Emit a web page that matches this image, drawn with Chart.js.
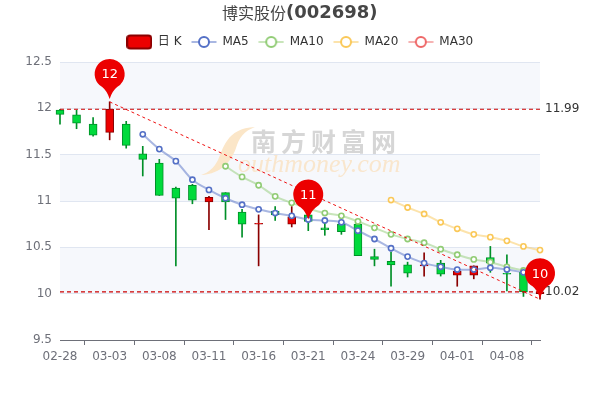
<!DOCTYPE html>
<html><head><meta charset="utf-8">
<style>html,body{margin:0;padding:0;background:#fff}canvas{display:block}</style>
<script src="https://cdn.jsdelivr.net/npm/chart.js@4"></script></head>
<body><div style="width:600px;height:400px"><canvas id="c" width="600" height="400"></canvas></div>
<script>
const dates=['02-28','03-01','03-02','03-03','03-04','03-07','03-08','03-09','03-10','03-11','03-14','03-15','03-16','03-17','03-18','03-21','03-22','03-23','03-24','03-25','03-28','03-29','03-30','03-31','04-01','04-06','04-07','04-08','04-11','04-12'];
const opens =[11.98,11.93,11.83,11.74,11.83,11.51,11.41,11.14,11.17,10.99,11.09,10.88,10.75,10.89,10.75,10.85,10.71,10.75,10.75,10.40,10.35,10.31,10.30,10.33,10.20,10.20,10.39,10.22,10.23,10.00];
const closes=[11.935,11.84,11.71,11.99,11.60,11.45,11.06,11.03,11.01,11.04,10.99,10.75,10.76,10.85,10.83,10.78,10.69,10.67,10.41,10.37,10.31,10.22,10.31,10.21,10.24,10.30,10.33,10.21,10.02,10.02];
const lows  =[11.83,11.78,11.70,11.66,11.57,11.27,11.06,10.30,10.97,10.69,10.80,10.61,10.30,10.79,10.72,10.68,10.63,10.64,10.41,10.30,10.08,10.18,10.19,10.19,10.08,10.16,10.23,10.03,9.97,9.94];
const highs =[11.99,11.98,11.90,12.07,11.86,11.59,11.45,11.15,11.18,11.05,11.09,10.91,10.85,10.94,10.94,10.87,10.76,10.77,10.77,10.48,10.45,10.34,10.44,10.36,10.25,10.30,10.51,10.42,10.24,10.20];
const ma5 =[null,null,null,null,null,11.72,11.56,11.43,11.23,11.12,11.03,10.96,10.91,10.87,10.84,10.80,10.79,10.77,10.68,10.59,10.49,10.40,10.33,10.29,10.26,10.26,10.28,10.26,10.23,10.20];
const ma10=[null,null,null,null,null,null,null,null,null,null,11.375,11.26,11.17,11.05,10.98,10.92,10.87,10.84,10.78,10.71,10.64,10.59,10.55,10.48,10.42,10.37,10.34,10.29,10.25,10.22];
const ma20=[null,null,null,null,null,null,null,null,null,null,null,null,null,null,null,null,null,null,null,null,11.01,10.93,10.86,10.77,10.70,10.64,10.61,10.57,10.51,10.47];
const ma30=[];
const yTicks=[9.5,10,10.5,11,11.5,12,12.5];
const xTickEvery=3;
const markHigh=11.99, markLow=10.02;
const trendFromIdx=3, trendFromVal=12.07, trendToIdx=29, trendToVal=9.94;
const pinIdx=[3,15,29], pinVal=[12.10,10.80,9.95], pinText=['12','11','10'];
const seriesNames=['日 K','MA5','MA10','MA20','MA30'];
const seriesColors=['#ec0000','#5470c6','#91cc75','#fac858','#ee6666'];
const lineColors=['','rgba(84,112,198,.5)','rgba(145,204,117,.5)','rgba(250,200,88,.5)','rgba(238,102,102,.5)'];

const UP='#ec0000',UPB='#8a0000',DN='#00da3c',DNB='#008f28';
const FONT='"DejaVu Sans","Noto Sans CJK SC",sans-serif';
const isUp=i=>closes[i]>opens[i];

function icon(k){
  const c=document.createElement('canvas');c.width=26;c.height=16;const x=c.getContext('2d');
  if(k===0){x.fillStyle=UP;x.strokeStyle=UPB;x.lineWidth=2;x.beginPath();x.roundRect(1,1.5,24,13,3);x.fill();x.stroke();}
  else{x.strokeStyle=lineColors[k];x.lineWidth=2;x.beginPath();x.moveTo(.5,8);x.lineTo(25.5,8);x.stroke();
    x.fillStyle='#fff';x.strokeStyle=seriesColors[k];x.beginPath();x.arc(13,8,5,0,Math.PI*2);x.fill();x.stroke();}
  return c;
}
const lineDs=(k,d)=>({type:'line',label:seriesNames[k],data:d,borderColor:lineColors[k],borderWidth:2,tension:.35,
  pointRadius:2.6,pointBorderWidth:1.6,pointBorderColor:seriesColors[k],pointBackgroundColor:'#fff',spanGaps:false,clip:false,order:2});
const constLine=v=>dates.map(()=>v);
const trend=dates.map((_,i)=>i===trendFromIdx?trendFromVal:i===trendToIdx?trendToVal:null);

const chrome={id:'chrome',
  afterLayout(ch){ch.legend.top-=4;},
  beforeDraw(ch){
    const {ctx}=ch,y=ch.scales.y,a=ch.chartArea;
    ctx.save();ctx.fillStyle='rgba(210,219,238,.2)';
    for(let i=yTicks.length-1;i>0;i-=2){const t=y.getPixelForValue(yTicks[i]),b=y.getPixelForValue(yTicks[i-1]);ctx.fillRect(a.left,t,a.right-a.left,b-t);}
    ctx.restore();
  },
  beforeDatasetsDraw(ch){
    const {ctx}=ch;ctx.save();
    // watermark
    ctx.fillStyle='#fbe6c8';ctx.beginPath();ctx.moveTo(255,127);
    ctx.bezierCurveTo(226,128,223,150,218,160);ctx.bezierCurveTo(214,168,208,173,201,175);
    ctx.bezierCurveTo(222,174,232,160,236,148);ctx.bezierCurveTo(239,138,244,131,255,127);ctx.fill();
    ctx.textBaseline='middle';ctx.textAlign='left';
    ctx.fillStyle='#d6d6d6';ctx.font='bold 25px "Noto Sans CJK SC"';ctx.letterSpacing='5px';ctx.fillText('南方财富网',251,141);
    ctx.letterSpacing='0px';ctx.fillStyle='#f9e6cd';ctx.font='italic 26px "Liberation Serif"';ctx.fillText('outhmoney.com',238,165);
    ctx.restore();
  },
  afterDraw(ch){
    const {ctx}=ch,x=ch.scales.x,y=ch.scales.y;ctx.save();
    // title
    ctx.textBaseline='middle';ctx.textAlign='left';ctx.fillStyle='#464646';
    ctx.font='16px "Noto Sans CJK SC"';ctx.fillText('博实股份',222,13);
    ctx.font='bold 18px "DejaVu Sans"';ctx.fillText('(002698)',286,13);
    // mark labels
    ctx.fillStyle='#333';ctx.font='12px "DejaVu Sans"';
    ctx.fillText(markHigh.toFixed(2),545,y.getPixelForValue(markHigh));
    ctx.fillText(markLow.toFixed(2),545,y.getPixelForValue(markLow));
    // pins
    pinIdx.forEach((ix,n)=>{
      const px=x.getPixelForValue(ix),tip=y.getPixelForValue(pinVal[n]),r=15,cy=tip-25;
      ctx.fillStyle='#ec0000';ctx.beginPath();
      const ang=.52;
      ctx.arc(px,cy,r,Math.PI/2+ang,Math.PI/2-ang,false);
      ctx.quadraticCurveTo(px+2.5,cy+r+2,px,tip);
      ctx.quadraticCurveTo(px-2.5,cy+r+2,px-r*Math.sin(ang),cy+r*Math.cos(ang));
      ctx.closePath();ctx.fill();
      ctx.fillStyle='#fff';ctx.textAlign='center';ctx.font='13px "DejaVu Sans"';ctx.fillText(pinText[n],px,cy+1);
    });
    ctx.restore();
  }};

new Chart(document.getElementById('c'),{
  type:'bar',
  data:{labels:dates,datasets:[
    {label:seriesNames[0],data:dates.map((_,i)=>[opens[i],closes[i]]),grouped:false,barThickness:8,borderSkipped:false,borderWidth:1,
      backgroundColor:dates.map((_,i)=>isUp(i)?UP:DN),borderColor:dates.map((_,i)=>isUp(i)?UPB:DNB),clip:false,order:3},
    lineDs(1,ma5),lineDs(2,ma10),lineDs(3,ma20),lineDs(4,ma30),
    {label:'wick',data:dates.map((_,i)=>[lows[i],highs[i]]),grouped:false,barThickness:1,borderWidth:0,borderSkipped:false,
      backgroundColor:dates.map((_,i)=>isUp(i)?UPB:DNB),clip:false,order:4},
    {type:'line',label:'high',data:constLine(markHigh),borderColor:'#cc0000',borderWidth:1.2,borderDash:[4,3],pointRadius:0,tension:0,clip:false,order:1},
    {type:'line',label:'low',data:constLine(markLow),borderColor:'#cc0000',borderWidth:1.2,borderDash:[4,3],pointRadius:0,tension:0,clip:false,order:1},
    {type:'line',label:'trend',data:trend,spanGaps:true,borderColor:'#ee1111',borderWidth:1,borderDash:[3,3],pointRadius:0,tension:0,clip:false,order:1}
  ]},
  plugins:[chrome],
  options:{responsive:false,animation:false,devicePixelRatio:1,
    layout:{autoPadding:false,padding:{top:30,right:0,left:0,bottom:0}},
    plugins:{tooltip:{enabled:false},title:{display:false},
      legend:{display:true,position:'top',align:'center',
        labels:{usePointStyle:true,pointStyleWidth:25,padding:10,color:'#333',font:{family:FONT,size:12},boxHeight:12,
          generateLabels:()=>seriesNames.map((t,k)=>({text:t,pointStyle:icon(k),fontColor:'#333',lineWidth:0,strokeStyle:'transparent',fillStyle:'transparent',datasetIndex:k}))}}},
    scales:{
      x:{type:'category',offset:false,afterFit(s){s.height=60;},
        afterBuildTicks(s){s.ticks=s.ticks.filter(t=>t.value%xTickEvery===0);},
        grid:{drawOnChartArea:false,drawTicks:true,tickLength:5,tickColor:'#6e7079',tickWidth:1},
        border:{color:'#6e7079',width:1},
        ticks:{autoSkip:false,maxRotation:0,minRotation:0,padding:5,color:'#6e7079',font:{family:FONT,size:12},
          callback(v){return dates[v];}}},
      y:{min:yTicks[0],max:yTicks[yTicks.length-1],afterFit(s){s.width=60;},afterBuildTicks(s){s.ticks=yTicks.map(v=>({value:v}));},
        grid:{color:'#e0e6f1',lineWidth:1,drawTicks:false,tickLength:0},border:{display:false},
        ticks:{padding:8,color:'#6e7079',font:{family:FONT,size:12},callback:v=>String(v)}},
      yRight:{position:'right',display:true,afterFit(s){s.width=60;},grid:{display:false,drawTicks:false},border:{display:false},ticks:{display:false}}
    }}
});
</script></body></html>
